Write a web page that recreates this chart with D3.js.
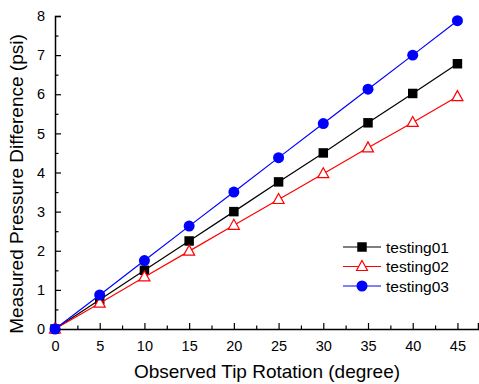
<!DOCTYPE html>
<html>
<head>
<meta charset="utf-8">
<script src="https://cdn.jsdelivr.net/npm/d3@7"></script>
<style>
  body { margin: 0; background: #fff; }
  text { font-family: "Liberation Sans", Arial, sans-serif; }
</style>
</head>
<body>
<script>
// data
var rotation = [0, 5, 10, 15, 20, 25, 30, 35, 40, 45];
var testing01 = [0, 0.75, 1.5, 2.25, 3.0, 3.76, 4.5, 5.27, 6.02, 6.78];
var testing02 = [0, 0.66, 1.33, 1.99, 2.65, 3.31, 3.97, 4.63, 5.28, 5.94];
var testing03 = [0, 0.87, 1.75, 2.63, 3.5, 4.38, 5.25, 6.13, 7.0, 7.88];
var xTicks = [0, 5, 10, 15, 20, 25, 30, 35, 40, 45];
var yTicks = [0, 1, 2, 3, 4, 5, 6, 7, 8];

var width = 479, height = 384;
var margin = {top: 16, left: 55, right: 1, bottom: 55};

var svg = d3.select("body").append("svg")
    .attr("width", width)
    .attr("height", height);

var x = d3.scaleLinear().domain([0, 47.3]).range([margin.left, width - margin.right]);
var y = d3.scaleLinear().domain([0, 8]).range([height - margin.bottom, margin.top]);

// minor ticks first
svg.append("g")
    .attr("transform", "translate(0," + y(0) + ")")
    .call(d3.axisBottom(x).tickValues(d3.range(2.5, 47, 5)).tickSize(-3.5).tickFormat(""))
    .call(g => g.select(".domain").remove());
svg.append("g")
    .attr("transform", "translate(" + x(0) + ",0)")
    .call(d3.axisLeft(y).tickValues(d3.range(0.5, 8, 1)).tickSize(-3.5).tickFormat(""))
    .call(g => g.select(".domain").remove());

var xAxis = svg.append("g")
    .attr("transform", "translate(0," + y(0) + ")")
    .call(d3.axisBottom(x).tickValues(xTicks).tickSize(-6).tickPadding(12).tickFormat(d3.format("d")));
var yAxis = svg.append("g")
    .attr("transform", "translate(" + x(0) + ",0)")
    .call(d3.axisLeft(y).tickValues(yTicks).tickSize(-6).tickPadding(10).tickFormat(d3.format("d")));

svg.selectAll(".domain").attr("stroke", "#000").attr("stroke-width", 1.5);
svg.selectAll(".tick line").attr("stroke", "#000").attr("stroke-width", 1.2);
svg.selectAll(".tick text").style("font-size", "14.5px").attr("fill", "#000")
    .style("font-family", "'Liberation Sans', Arial, sans-serif");

svg.append("text")
    .attr("x", 267)
    .attr("y", 378)
    .attr("text-anchor", "middle")
    .style("font-size", "19px")
    .text("Observed Tip Rotation (degree)");

svg.append("text")
    .attr("transform", "translate(23,184) rotate(-90)")
    .attr("text-anchor", "middle")
    .style("font-size", "19px")
    .text("Measured Pressure Difference (psi)");

var series = [
  {name: "testing01", values: testing01, color: "#000", shape: "square"},
  {name: "testing02", values: testing02, color: "#ff0000", shape: "triangle"},
  {name: "testing03", values: testing03, color: "#0000ff", shape: "circle"}
];

var line = d3.line()
    .x(function(d, i) { return x(rotation[i]); })
    .y(function(d) { return y(d); });

function drawMarker(g, shape, color) {
  if (shape == "square") {
    g.append("path").attr("d", d3.symbol(d3.symbolSquare, 90)()).attr("fill", color);
  } else if (shape == "circle") {
    g.append("path").attr("d", d3.symbol(d3.symbolCircle, 95)()).attr("fill", color);
  } else {
    g.append("path").attr("d", "M0,-6L5.5,4L-5.5,4Z")
        .attr("fill", "#fff").attr("stroke", color).attr("stroke-width", 1.2);
  }
}

series.forEach(function(s) {
  svg.append("path")
      .datum(s.values)
      .attr("fill", "none")
      .attr("stroke", s.color)
      .attr("stroke-width", 1.2)
      .attr("d", line);
  s.values.forEach(function(v, i) {
    var g = svg.append("g").attr("transform", "translate(" + x(rotation[i]) + "," + y(v) + ")");
    drawMarker(g, s.shape, s.color);
  });
});

// legend
var legend = svg.append("g");
series.forEach(function(s, i) {
  var ly = 247 + i * 19.5;
  legend.append("line")
      .attr("x1", 343).attr("x2", 381)
      .attr("y1", ly).attr("y2", ly)
      .attr("stroke", s.color).attr("stroke-width", 1.2);
  var g = legend.append("g").attr("transform", "translate(362," + ly + ")");
  drawMarker(g, s.shape, s.color);
  legend.append("text")
      .attr("x", 386).attr("y", ly + 5.5)
      .style("font-size", "15.5px")
      .text(s.name);
});
</script>
</body>
</html>
